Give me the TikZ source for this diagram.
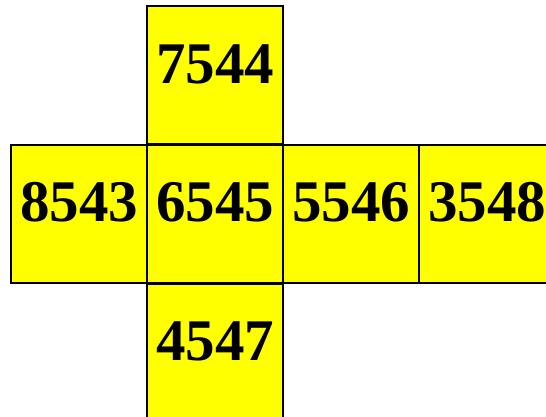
\documentclass[tikz,border=0pt]{standalone}
\usepackage{fontspec}
\setmainfont{Liberation Serif}
\definecolor{faceyellow}{RGB}{255,255,0}
\begin{document}
\begin{tikzpicture}[x=1pt,y=-1pt,
  face/.style={draw=black,fill=faceyellow,line width=2pt,minimum width=136pt,minimum height=138pt,inner sep=0pt,outer sep=0pt},
  num/.style={anchor=base,inner sep=0pt,font=\fontsize{59}{59}\selectfont\bfseries}]
\useasboundingbox (0,0) rectangle (546,416);
\clip (0,0) rectangle (546,416);
\node[face] (top) at (215,75) {};
\node[face] (left) at (79,213.5) {};
\node[face] (mid) at (215,213.5) {};
\node[face] (right) at (351,213.5) {};
\node[face] (far) at (487,213.5) {};
\node[face] (bot) at (215,352.5) {};
\foreach \n/\t in {top/7544,left/8543,mid/6545,right/5546,far/3548,bot/4547}{
  \node[num] (t\n) at ([yshift=-77pt]\n.north) {\t};
}
\end{tikzpicture}
\end{document}
